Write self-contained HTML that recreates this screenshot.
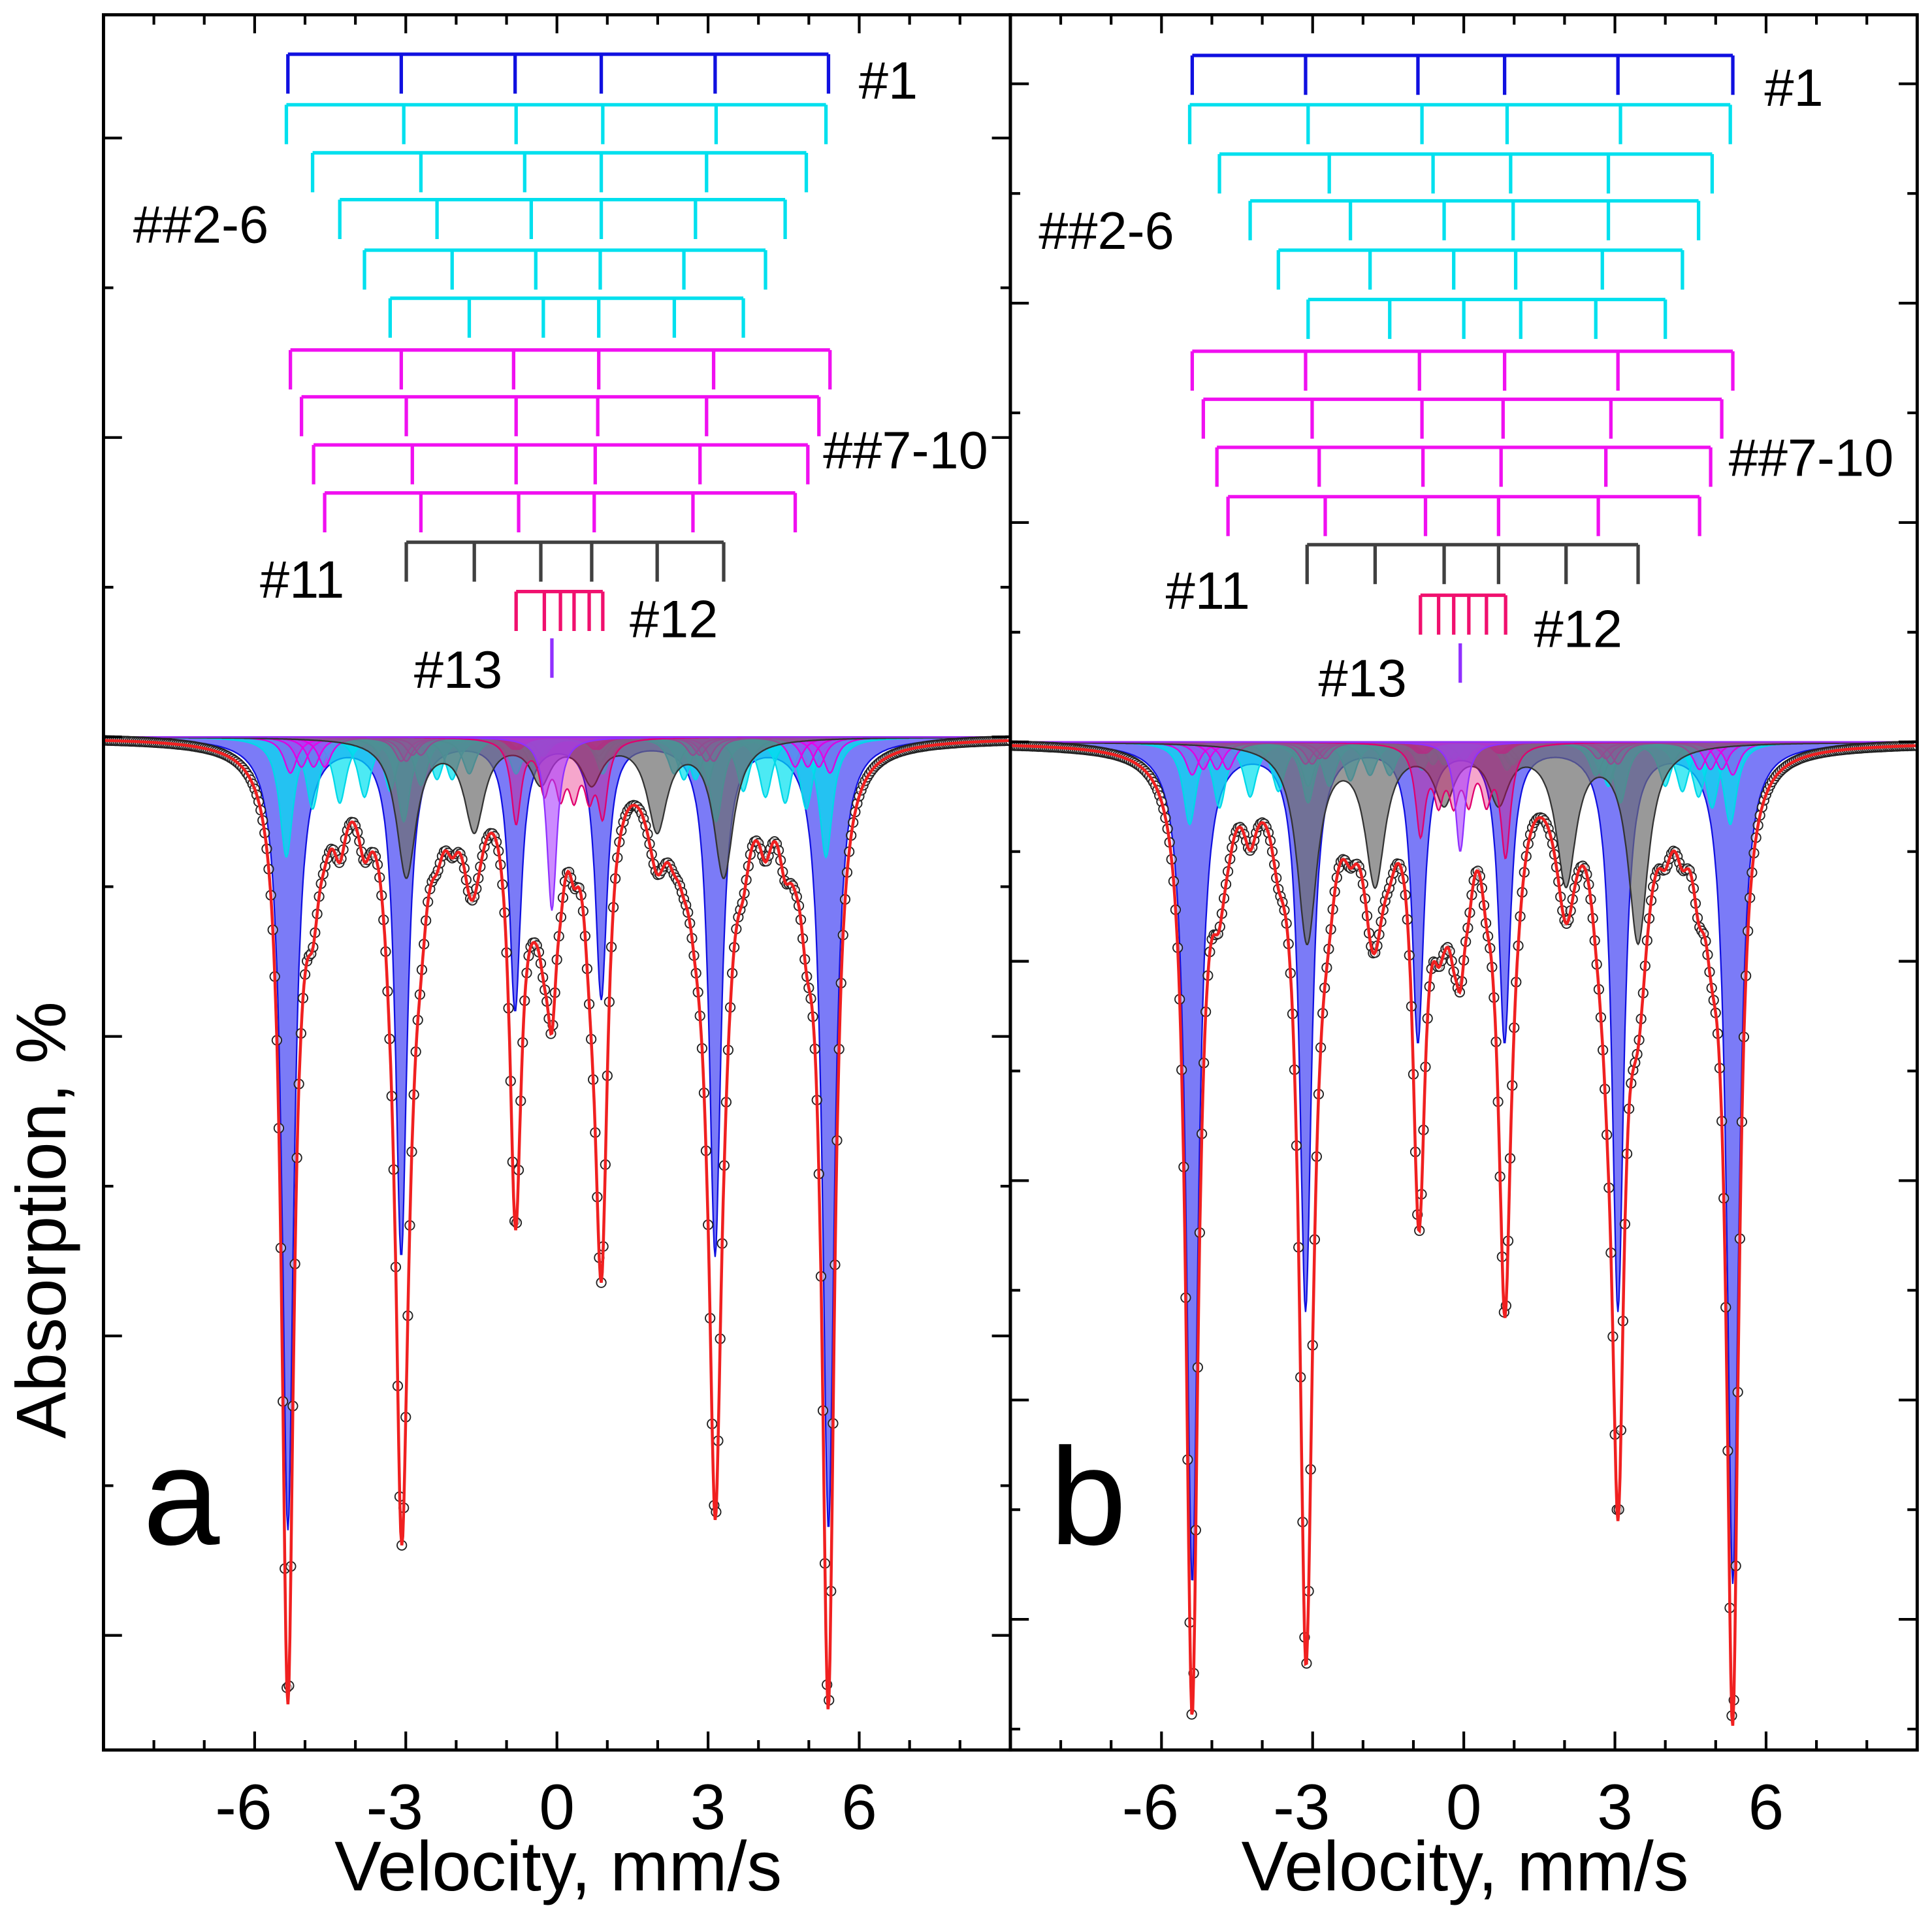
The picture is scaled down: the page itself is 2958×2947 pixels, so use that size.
<!DOCTYPE html>
<html><head><meta charset="utf-8"><style>
html,body{margin:0;padding:0;background:#fff;}
svg{display:block;font-family:"Liberation Sans",Arial,sans-serif;}
</style></head><body>
<svg id="chart" width="2958" height="2947" viewBox="0 0 1568 1562" preserveAspectRatio="none" xmlns="http://www.w3.org/2000/svg">
<rect x="0" y="0" width="1568" height="1562" fill="#fff"/>
<text x="0" y="0" transform="translate(53,990) rotate(-90)" text-anchor="middle" font-size="57">Absorption, %</text>
</svg>
<script>
// x-axis ticks
const xTickLabels = [-6, -3, 0, 3, 6];
// Panel a sextet positions (mm/s)
const aBlue = [-5.34,-3.09,-0.83,0.88,3.14,5.39];
const aCyan = [[-5.37,-3.04,-0.81,0.91,3.16,5.34],[-4.85,-2.70,-0.64,0.88,2.97,4.95],[-4.31,-2.38,-0.51,0.88,2.75,4.53],[-3.82,-2.08,-0.42,0.86,2.52,4.14],[-3.31,-1.74,-0.27,0.83,2.33,3.70]];
const aMag = [[-5.29,-3.09,-0.86,0.83,3.11,5.42],[-5.07,-2.99,-0.81,0.81,2.97,5.20],[-4.83,-2.87,-0.81,0.76,2.84,4.98],[-4.61,-2.70,-0.76,0.74,2.70,4.73]];
const aGray = [-2.99,-1.64,-0.32,0.69,1.99,3.31];
const aCrim = [-0.81,-0.25,0.07,0.34,0.64,0.91];
const aPurp = [-0.10];
// Panel a depths (%)
const aBlueD = [13.2,8.6,4.5,4.3,8.6,13.2];
const aCyanD = [[2.0,1.4,0.6,0.6,1.4,2.0],[1.2,0.8,0.4,0.4,0.8,1.2],[1.1,0.7,0.4,0.4,0.7,1.1],[1.0,0.7,0.4,0.4,0.7,1.0],[0.9,0.6,0.3,0.3,0.6,0.9]];
const aMagD = [[0.6,0.4,0.2,0.2,0.4,0.6],[0.5,0.4,0.2,0.2,0.4,0.5],[0.5,0.3,0.2,0.2,0.3,0.5],[0.5,0.3,0.2,0.2,0.3,0.5]];
const aGrayD = [2.3,1.5,0.7,0.7,1.5,2.3];
const aCrimD = [1.4,0.8,0.8,0.8,0.8,1.2];
const aPurpD = [2.9];
// Panel b sextet positions
const bBlue = [-5.39,-3.14,-0.91,0.81,3.06,5.34];
const bCyan = [[-5.44,-3.09,-0.83,0.86,3.11,5.29],[-4.85,-2.67,-0.61,0.93,2.87,4.93],[-4.24,-2.25,-0.39,0.98,2.87,4.66],[-3.68,-1.86,-0.20,1.03,2.75,4.34],[-3.09,-1.47,0.00,1.13,2.62,4.00]];
const bMag = [[-5.39,-3.14,-0.88,0.81,3.06,5.34],[-5.17,-3.01,-0.83,0.78,2.92,5.12],[-4.90,-2.87,-0.81,0.74,2.82,4.90],[-4.68,-2.75,-0.76,0.69,2.67,4.68]];
const bGray = [-3.11,-1.76,-0.39,0.69,2.03,3.46];
const bCrim = [-0.86,-0.50,-0.20,0.10,0.45,0.83];
const bPurp = [-0.07];
// Panel b depths (%)
const bBlueD = [15.3,10.3,5.4,5.4,10.3,15.3];
const bCyanD = [[1.5,1.1,0.5,0.5,1.1,1.5],[1.2,0.8,0.4,0.4,0.8,1.2],[1.0,0.7,0.4,0.4,0.7,1.0],[0.9,0.6,0.3,0.3,0.6,0.9],[0.8,0.6,0.3,0.3,0.6,0.8]];
const bMagD = [[0.6,0.4,0.2,0.2,0.4,0.6],[0.5,0.4,0.2,0.2,0.4,0.5],[0.5,0.3,0.2,0.2,0.3,0.5],[0.5,0.3,0.2,0.2,0.3,0.5]];
const bGrayD = [3.6,2.5,1.0,1.0,2.5,3.6];
const bCrimD = [1.6,0.9,0.9,0.9,0.9,2.0];
const bPurpD = [2.0];

const NS="http://www.w3.org/2000/svg";
const svg=document.getElementById('chart');
function mk(tag,attrs,parent){const e=document.createElementNS(NS,tag);for(const k in attrs)e.setAttribute(k,attrs[k]);(parent||svg).appendChild(e);return e;}

function drawPanel(P){
  const g=mk('g',{});
  
  
  const X=v=>P.x0+(v+9)*(P.x1-P.x0)/18;
  const Y=d=>P.base+d*P.ppu;
  const clipId='clip'+P.id;
  const cp=mk('clipPath',{id:clipId},g);
  mk('rect',{x:P.x0,y:P.y0,width:P.x1-P.x0,height:P.y1-P.y0},cp);
  const plot=mk('g',{'clip-path':'url(#'+clipId+')'},g);
  const comps=[
    {pos:[P.blue],dep:[P.blueD],w:0.14,fill:'rgba(90,90,245,0.8)',stroke:'#1010e0',nm:'blue-sextet-1'},
    {pos:P.cyan,dep:P.cyanD,w:0.16,fill:'rgba(0,225,240,0.7)',stroke:'#00d8e8',nm:'cyan-sextet'},
    {pos:P.mag,dep:P.magD,w:0.16,fill:'rgba(240,0,240,0.35)',stroke:'#e000e0',nm:'magenta-sextet'},
    {pos:[P.gray],dep:[P.grayD],w:0.24,fill:'rgba(110,110,110,0.7)',stroke:'#333',nm:'gray-sextet-11'},
    {pos:[P.crim],dep:[P.crimD],w:0.12,fill:'rgba(230,0,110,0.35)',stroke:'#e0006e',nm:'crimson-sextet-12'},
    {pos:[P.purp],dep:[P.purpD],w:0.12,fill:'rgba(170,60,255,0.6)',stroke:'#9030ff',nm:'purple-singlet-13'}
  ];
  const step=0.02, vs=[];
  for(let v=-9;v<=9.0001;v+=step)vs.push(v);
  const lor=(v,c,d,w)=>d*w*w/((v-c)*(v-c)+w*w);
  const total=vs.map(()=>0);
  comps.forEach(c=>{
    c.pos.forEach((row,ri)=>{
      const vals=vs.map(v=>row.reduce((s,p,i)=>s+lor(v,p,c.dep[ri][i],c.w),0));
      vals.forEach((y,i)=>total[i]+=y);
      let d='M'+X(-9)+','+Y(0);
      vs.forEach((v,i)=>{d+='L'+X(v).toFixed(1)+','+Y(vals[i]).toFixed(1);});
      d+='L'+X(9)+','+Y(0)+'Z';
      const p=mk('path',{d:d,fill:c.fill,stroke:c.stroke,'stroke-width':1.2},plot);
      
      
    });
  });
  for(let i=0;i<vs.length;i+=2){
    const c=mk('circle',{cx:X(vs[i]).toFixed(1),cy:Y(total[i]).toFixed(1),r:3.8,fill:'#fff','fill-opacity':0.6,stroke:'#222','stroke-width':1},plot);
    
    
  }
  let d='';
  vs.forEach((v,i)=>{d+=(i?'L':'M')+X(v).toFixed(1)+','+Y(total[i]).toFixed(1);});
  const fit=mk('path',{d:d,fill:'none',stroke:'#f02020','stroke-width':2.4},plot);
  
  
  const combs=[{p:P.blue,y:P.cy[0],c:'#1010e0'}];
  P.cyan.forEach((r,i)=>combs.push({p:r,y:P.cy[1+i],c:'#00e0ee'}));
  P.mag.forEach((r,i)=>combs.push({p:r,y:P.cy[6+i],c:'#f010f0'}));
  combs.push({p:P.gray,y:P.cy[10],c:'#404040'});
  combs.push({p:P.crim,y:P.cy[11],c:'#f0106e'});
  combs.forEach(cb=>{
    const xs=cb.p.map(X);
    const l=mk('path',{d:'M'+xs[0]+','+cb.y+'H'+xs[xs.length-1]+xs.map(x=>'M'+x+','+cb.y+'v32').join(''),stroke:cb.c,'stroke-width':2.8,fill:'none'},g);
    
    
  });
  const pl=mk('line',{x1:X(P.purp[0]),x2:X(P.purp[0]),y1:P.cy[12],y2:P.cy[12]+32,stroke:'#9030ff','stroke-width':2.8},g);
  
  
  P.labels.forEach(L=>{
    const t=mk('text',{x:L[1],y:L[2],'font-size':43},g);
    t.textContent=L[0];
    
    
  });
  const fr=mk('rect',{x:P.x0,y:P.y0,width:P.x1-P.x0,height:P.y1-P.y0,fill:'none',stroke:'#000','stroke-width':2.6},g);
  
  
  let t='';
  for(let v=-8;v<=8;v++){const x=X(v),L=(v%3===0)?15:8;t+='M'+x+','+P.y1+'v'+(-L)+'M'+x+','+P.y0+'v'+L;}
  for(let k=P.yTickMin;k<=P.yTickMax;k++){const y=P.base+k*P.tickPx;if(y<P.y0+3||y>P.y1-3)continue;const L=(k%2===0)?15:8;t+='M'+P.x0+','+y+'h'+L+'M'+P.x1+','+y+'h'+(-L);}
  const tk=mk('path',{d:t,stroke:'#000','stroke-width':2.2,fill:'none'},g);
  
  
  xTickLabels.forEach(v=>{
    const tl=mk('text',{x:X(v)-(v<0?9:0),y:1484,'font-size':52,'text-anchor':'middle'},g);
    tl.textContent=String(v);
    
    
  });
  const xt=mk('text',{x:(P.x0+P.x1)/2+1,y:1534,'font-size':57,'text-anchor':'middle'},g);
  xt.textContent='Velocity, mm/s';
  
  
  const pl2=mk('text',{x:P.x0+32,y:1253,'font-size':112},g);
  pl2.textContent=P.letter;
  
  
}

drawPanel({id:'a',name:'panel-a',letter:'a',x0:84,x1:820,y0:12,y1:1420,base:598,ppu:48.6,tickPx:121.5,yTickMin:-4,yTickMax:7,
  blue:aBlue,blueD:aBlueD,cyan:aCyan,cyanD:aCyanD,mag:aMag,magD:aMagD,gray:aGray,grayD:aGrayD,crim:aCrim,crimD:aCrimD,purp:aPurp,purpD:aPurpD,
  cy:[44,85,124,162,203,242,284,322,361,400,440,480,518],
  labels:[['#1',697,80],['##2-6',108,197],['##7-10',668,380],['#11',211,485],['#12',511,517],['#13',336,558]]});
drawPanel({id:'b',name:'panel-b',letter:'b',x0:820,x1:1556,y0:12,y1:1420,base:602,ppu:44.5,tickPx:89,yTickMin:-6,yTickMax:9,
  blue:bBlue,blueD:bBlueD,cyan:bCyan,cyanD:bCyanD,mag:bMag,magD:bMagD,gray:bGray,grayD:bGrayD,crim:bCrim,crimD:bCrimD,purp:bPurp,purpD:bPurpD,
  cy:[45,85,125,163,203,243,285,324,363,403,442,483,522],
  labels:[['#1',1432,86],['##2-6',843,202],['##7-10',1403,386],['#11',946,494],['#12',1245,525],['#13',1070,565]]});
</script>
</body></html>
